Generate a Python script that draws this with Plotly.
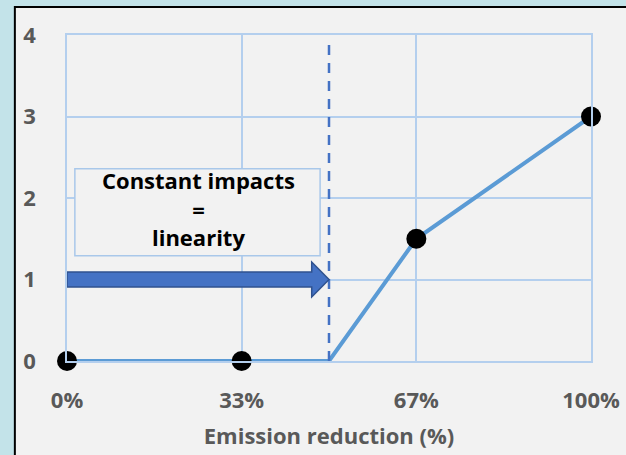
import plotly.graph_objects as go

# Data
x_vals = [0, 33.33, 50, 66.67, 100]
y_vals = [0, 0, 0, 1.5, 3]
marker_x = [0, 33.33, 66.67, 100]
marker_y = [0, 0, 1.5, 3]
x_tickvals = [0, 33.33, 66.67, 100]
x_ticktext = ["0%", "33%", "67%", "100%"]
y_tickvals = [0, 1, 2, 3, 4]
threshold_x = 50
arrow_start = 0
arrow_y = 1
box_text = "Constant impacts<br>=<br>linearity"

FONT = "Open Sans"
GRAY = "#595959"
GRID = "#b4cfee"

fig = go.Figure()
fig.add_trace(go.Scatter(x=x_vals, y=y_vals, mode="lines",
                         line=dict(color="#5b9bd5", width=4), hoverinfo="skip"))
fig.add_trace(go.Scatter(x=marker_x, y=marker_y, mode="markers", cliponaxis=False,
                         marker=dict(color="black", size=20), hoverinfo="skip"))

shapes = []
# outer panel
shapes.append(dict(type="rect", xref="paper", yref="paper",
                   x0=-0.0995, x1=1.08, y0=-0.35, y1=1.086,
                   fillcolor="#f2f2f2", line=dict(color="black", width=2), layer="below"))
# dashed threshold
shapes.append(dict(type="line", xref="x", yref="y", x0=threshold_x, x1=threshold_x,
                   y0=0, y1=3.95, line=dict(color="#4472c4", width=2.5, dash="10px,8px")))
# text box
shapes.append(dict(type="rect", xref="x", yref="y", x0=1.5, x1=48.3, y0=1.29, y1=2.36,
                   fillcolor="#f2f2f2", line=dict(color="#a9c8ea", width=1.5)))
# arrow
hb, hh = 0.092, 0.215
head_len = 3.3
xe = threshold_x
xs = arrow_start
xh = xe - head_len
path = (f"M {xs},{arrow_y+hb} L {xh},{arrow_y+hb} L {xh},{arrow_y+hh} L {xe},{arrow_y} "
        f"L {xh},{arrow_y-hh} L {xh},{arrow_y-hb} L {xs},{arrow_y-hb} Z")
shapes.append(dict(type="path", xref="x", yref="y", path=path,
                   fillcolor="#4472c4", line=dict(color="#2f528f", width=1.5)))

annotations = [dict(x=25, y=1.87, xref="x", yref="y", text=box_text, showarrow=False,
                    font=dict(family=FONT, size=22, color="black", weight="bold"))]

fig.update_layout(
    width=626, height=455,
    margin=dict(l=67, r=35, t=35, b=94),
    paper_bgcolor="#c3e3e9", plot_bgcolor="#f2f2f2",
    showlegend=False,
    shapes=shapes, annotations=annotations,
    xaxis=dict(range=[0, 100], tickvals=x_tickvals, ticktext=x_ticktext,
               showgrid=True, gridcolor=GRID, gridwidth=1.5,
               showline=True, linecolor=GRID, linewidth=1.5, mirror=True, zeroline=False,
               ticks="outside", ticklen=19, tickcolor="rgba(0,0,0,0)",
               tickfont=dict(family=FONT, size=22, color=GRAY, weight="bold"),
               title=dict(text="Emission reduction (%)", standoff=15,
                          font=dict(family=FONT, size=22, color=GRAY, weight="bold"))),
    yaxis=dict(range=[0, 4], tickvals=y_tickvals,
               showgrid=True, gridcolor=GRID, gridwidth=1.5,
               showline=True, linecolor=GRID, linewidth=1.5, mirror=True, zeroline=False,
               ticks="outside", ticklen=25, tickcolor="rgba(0,0,0,0)",
               tickfont=dict(family=FONT, size=22, color=GRAY, weight="bold")),
)
fig.update_xaxes(automargin=False)
fig.update_yaxes(automargin=False)
fig.write_html("out.html", config={"displayModeBar": False},
               post_script="document.body.style.margin='0';document.body.style.overflow='hidden';")
